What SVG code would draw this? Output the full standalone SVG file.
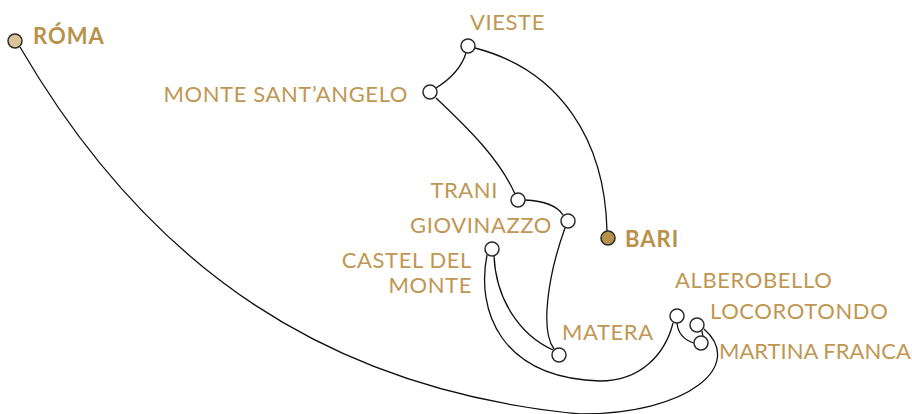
<svg xmlns="http://www.w3.org/2000/svg" width="912" height="414" viewBox="0 0 912 414">
<style>
.lbl{font-family:Lato,"Liberation Sans",sans-serif;font-size:22px;font-weight:400;letter-spacing:0.6px;fill:#bf9753}
.bold{font-family:Lato,"Liberation Sans",sans-serif;font-size:22px;font-weight:700;letter-spacing:1px;fill:#b8914a}
.node{fill:#fff;stroke:#2b2b2b;stroke-width:1.5}
.edge{fill:none;stroke:#111;stroke-width:1.3}
</style>
<rect width="912" height="414" fill="#fff"/>
<g id="connectors">
<path class="edge" d="M20,47 C150,270 330,390 580,414 C690,414 745,365 704,329"/>
<path class="edge" d="M487,255 C476,310 500,378 600,381 C640,381 665,355 673,323"/>
<path class="edge" d="M494,256 C496,300 520,335 553,350"/>
<path class="edge" d="M565,228 C548,275 540,330 554,349"/>
<path class="edge" d="M525,200 C545,201 558,207 563,215"/>
<path class="edge" d="M436,98 C470,130 500,160 515,194"/>
<path class="edge" d="M436,88 C452,78 462,66 466,53"/>
<path class="edge" d="M475,48 C560,70 605,140 607,231"/>
<path class="edge" d="M677,323 C678,333 684,340 694,343"/>
<path class="edge" d="M702,331 L703,337"/>
</g>
<g id="roma"><circle cx="15" cy="41" r="7" fill="#dcc49a" stroke="#2b2b2b" stroke-width="1.5"/><text class="bold" x="33" y="44">RÓMA</text></g>
<g id="vieste"><circle class="node" cx="468" cy="46" r="7"/><text class="lbl" x="470" y="30">VIESTE</text></g>
<g id="monte-sant-angelo"><circle class="node" cx="430" cy="92" r="7"/><text class="lbl" x="408" y="102" text-anchor="end">MONTE SANT’ANGELO</text></g>
<g id="trani"><circle class="node" cx="518" cy="200" r="7"/><text class="lbl" x="498" y="198" text-anchor="end">TRANI</text></g>
<g id="giovinazzo"><circle class="node" cx="568" cy="221" r="7"/><text class="lbl" x="552" y="233" text-anchor="end">GIOVINAZZO</text></g>
<g id="bari"><circle cx="608" cy="238" r="7" fill="#b8914a" stroke="#2b2b2b" stroke-width="1.5"/><text class="bold" x="625" y="247">BARI</text></g>
<g id="castel-del-monte"><circle class="node" cx="492" cy="249" r="7"/><text class="lbl" x="472" y="268" text-anchor="end">CASTEL DEL</text><text class="lbl" x="472" y="293" text-anchor="end">MONTE</text></g>
<g id="matera"><circle class="node" cx="559" cy="355" r="7"/><text class="lbl" x="562" y="340">MATERA</text></g>
<g id="alberobello"><circle class="node" cx="677" cy="316" r="7"/><text class="lbl" x="675" y="288">ALBEROBELLO</text></g>
<g id="locorotondo"><circle class="node" cx="697" cy="325" r="7"/><text class="lbl" x="710" y="319">LOCOROTONDO</text></g>
<g id="martina-franca"><circle class="node" cx="701" cy="343" r="7"/><text class="lbl" x="719" y="359" style="letter-spacing:0">MARTINA FRANCA</text></g>
</svg>
